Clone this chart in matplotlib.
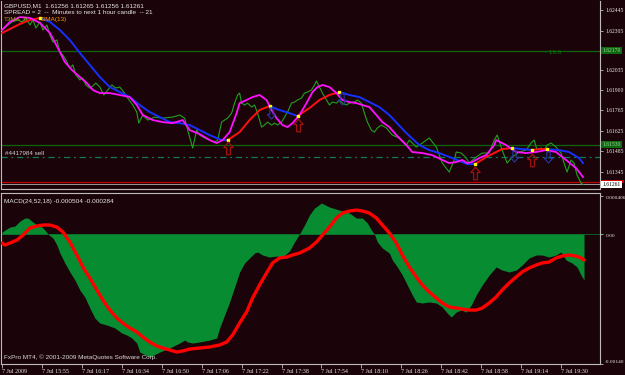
import matplotlib

matplotlib.use("Agg")
import matplotlib.pyplot as plt
import matplotlib.transforms as mtrans
import numpy as np
from matplotlib.patches import Rectangle
from matplotlib.path import Path

# ---- data (x = bar index, 1 bar ~ 2 px) ----
close_x = [0, 3, 5, 8, 10, 12, 14, 15.5, 17, 19, 20.5, 22.5, 24, 25.5, 27.5, 29, 30.5, 32, 34, 35.5,
           37, 39, 40.5, 42, 44, 45.5, 47, 49, 51, 53, 55, 57, 59, 61, 63, 65.5, 67.5, 68.5, 70.5, 73,
           76.5, 80.5, 85.5, 89, 91.5, 93, 95.5, 97.5, 99, 101.5, 104, 106.5, 108, 110, 111.5, 113,
           115, 116.5, 118, 119, 120, 121.5, 123, 125, 126.5, 128, 130, 131.5, 133, 135, 136.5, 138,
           140, 141.5, 143, 145, 146.5, 148, 150, 151.5, 153, 155, 156.5, 157.5, 159, 160.5, 162.5,
           164, 165.5, 167.5, 169, 170.5, 172.5, 174, 176.5, 178, 180, 181.5, 183, 185, 186.5, 188,
           190, 192.5, 195.5, 199, 202.5, 204, 207.5, 210.5, 214, 217.5, 220.5, 224, 226.5, 227.5,
           230, 232.5, 234, 237.5, 240.5, 244, 246.5, 248, 250.5, 253, 255.5, 259, 262.5, 265, 266.5,
           268, 270, 271.5, 273, 275, 277.5, 280, 281.5, 283, 285, 286.5, 288, 290, 291]
close_y = [1.62309, 1.62343, 1.62364, 1.62377, 1.62364, 1.62391, 1.62343, 1.62377, 1.62323, 1.62364,
           1.62309, 1.62343, 1.62275, 1.62228, 1.62241, 1.62160, 1.62139, 1.62106, 1.62051, 1.62072,
           1.62004, 1.61970, 1.61983, 1.61936, 1.61915, 1.61929, 1.61949, 1.61922, 1.61868, 1.61902,
           1.61936, 1.61915, 1.61922, 1.61888, 1.61847, 1.61800, 1.61752, 1.61677, 1.61732, 1.61698,
           1.61718, 1.61711, 1.61718, 1.61732, 1.61711, 1.61630, 1.61508, 1.61630, 1.61596, 1.61576,
           1.61562, 1.61549, 1.61562, 1.61684, 1.61698, 1.61711, 1.61745, 1.61813, 1.61868, 1.61881,
           1.61813, 1.61800, 1.61813, 1.61786, 1.61800, 1.61745, 1.61650, 1.61664, 1.61684, 1.61664,
           1.61677, 1.61664, 1.61684, 1.61718, 1.61752, 1.61813, 1.61820, 1.61834, 1.61847, 1.61881,
           1.61888, 1.61902, 1.61936, 1.61963, 1.61922, 1.61881, 1.61834, 1.61800, 1.61820, 1.61813,
           1.61834, 1.61813, 1.61800, 1.61813, 1.61820, 1.61834, 1.61813, 1.61745, 1.61684, 1.61630,
           1.61616, 1.61644, 1.61664, 1.61644, 1.61596, 1.61576, 1.61528, 1.61562, 1.61515, 1.61542,
           1.61576, 1.61515, 1.61406, 1.61345, 1.61427, 1.61481, 1.61474, 1.61440, 1.61406, 1.61447,
           1.61474, 1.61474, 1.61562, 1.61596, 1.61494, 1.61406, 1.61447, 1.61481, 1.61494, 1.61542,
           1.61562, 1.61494, 1.61508, 1.61494, 1.61528, 1.61542, 1.61515, 1.61474, 1.61406, 1.61345,
           1.61427, 1.61406, 1.61325, 1.61270, 1.61261]

fast_x = [0, 4, 9, 14, 19, 24, 28, 31.5, 35, 39, 42.5, 45.5, 49, 54, 59, 64, 67.5, 70.5, 75.5, 80.5,
          85.5, 90.5, 94, 99, 104, 107.5, 110.5, 114, 117.5, 119, 122.5, 125.5, 129, 132.5, 135,
          137.5, 140.5, 143, 145.5, 149, 152.5, 155.5, 158, 160.5, 164, 167.5, 170.5, 174, 177.5,
          180.5, 184, 187.5, 190.5, 194, 197.5, 202.5, 205.5, 210.5, 215.5, 220.5, 224, 227.5, 230.5,
          233, 235.5, 239, 242.5, 246.5, 247.5, 252.5, 257.5, 262.5, 267.5, 272.5, 277.5, 282.5,
          287.5, 291]
fast_y = [1.62309, 1.62364, 1.62397, 1.62391, 1.62357, 1.62289, 1.62187, 1.62092, 1.62038, 1.61990,
          1.61949, 1.61902, 1.61881, 1.61881, 1.61868, 1.61854, 1.61800, 1.61732, 1.61698, 1.61684,
          1.61677, 1.61698, 1.61630, 1.61603, 1.61562, 1.61542, 1.61562, 1.61616, 1.61745, 1.61813,
          1.61834, 1.61854, 1.61868, 1.61834, 1.61766, 1.61711, 1.61664, 1.61650, 1.61677, 1.61732,
          1.61813, 1.61888, 1.61922, 1.61936, 1.61922, 1.61881, 1.61834, 1.61820, 1.61813, 1.61800,
          1.61786, 1.61732, 1.61684, 1.61650, 1.61596, 1.61528, 1.61481, 1.61474, 1.61460, 1.61427,
          1.61406, 1.61413, 1.61427, 1.61406, 1.61413, 1.61440, 1.61460, 1.61528, 1.61562, 1.61528,
          1.61481, 1.61474, 1.61481, 1.61494, 1.61481, 1.61427, 1.61372, 1.61311]

slow_x = [0, 4, 9, 14, 19, 24, 29, 34, 39, 44, 49, 54, 59, 64, 69, 74, 79, 84, 89, 94, 99, 104, 110,
          113, 119, 124, 129, 134, 139, 144, 148, 154, 159, 164, 169, 174, 179, 184, 189, 194, 202.5,
          209, 214, 219, 225.5, 233, 237, 242.5, 247.5, 250.5, 255.5, 260.5, 265.5, 269, 273, 279,
          284, 289, 291]
slow_y = [1.62289, 1.62316, 1.62350, 1.62377, 1.62391, 1.62364, 1.62309, 1.62241, 1.62153, 1.62072,
          1.61990, 1.61922, 1.61888, 1.61854, 1.61800, 1.61752, 1.61718, 1.61684, 1.61677, 1.61664,
          1.61630, 1.61596, 1.61562, 1.61562, 1.61616, 1.61698, 1.61766, 1.61793, 1.61766, 1.61745,
          1.61725, 1.61779, 1.61834, 1.61868, 1.61888, 1.61868, 1.61854, 1.61820, 1.61786, 1.61732,
          1.61610, 1.61528, 1.61494, 1.61474, 1.61440, 1.61399, 1.61399, 1.61447, 1.61481, 1.61501,
          1.61508, 1.61501, 1.61494, 1.61501, 1.61501, 1.61494, 1.61481, 1.61440, 1.61406]
# trend colouring of the slow average: segment boundaries and direction
trend_breaks = [0, 19, 113, 134, 148, 169, 237, 255.5, 265.5, 273, 291]
trend_up = [True, False, True, False, True, False, True, False, True, False]

buy_x = [113, 148, 237, 265.5]
buy_y = [1.61508, 1.61664, 1.61338, 1.61427]
sell_x = [134.75, 170.25, 256.5, 273.5]
sell_y = [1.61749, 1.61841, 1.61454, 1.61447]

level_green = [1.62170, 1.61530]
level_order = 1.61447
level_red = 1.61277
bid = 1.61261

price_ticks = [1.62445, 1.62305, 1.62035, 1.61900, 1.61765, 1.61625, 1.61485, 1.61345]

hist_x = [0, 1.5, 4, 6.5, 9, 11.5, 13, 15.5, 17.5, 20, 21.5, 23, 25.5, 27.5, 29, 31.5, 34, 36.5, 39,
          41.5, 44, 46.5, 49, 52.5, 56.5, 60, 62.5, 65, 67.5, 69, 74, 79, 84, 89, 91.5, 93, 95.5, 99,
          104, 107.5, 109, 111.5, 114, 116.5, 119, 121.5, 124, 126.5, 128, 130.5, 134, 137.5, 140.5,
          144, 146.5, 149, 151.5, 154, 156.5, 160, 164, 169, 174, 177.5, 180.5, 183, 185, 186.5, 188,
          190.5, 194, 195.5, 198, 200.5, 203, 205.5, 207.5, 210.5, 214, 217.5, 220.5, 223, 225, 227.5,
          230, 232.5, 235, 237.5, 240.5, 244, 247.5, 250.5, 254, 257.5, 260.5, 264, 267.5, 270.5, 274,
          277.5, 280, 282.5, 285.5, 288, 290, 291.5]
hist_y = [0.00002, 0.000043, 0.000075, 0.000086, 0.00014, 0.000172, 0.000172, 0.000129, 0.000097,
          0.000075, 0.000043, 0.0, -0.000043, -0.000118, -0.000205, -0.000312, -0.000409, -0.000495,
          -0.000603, -0.000679, -0.000797, -0.000905, -0.000959, -0.00098, -0.001012, -0.001066,
          -0.001088, -0.00112, -0.001174, -0.001271, -0.001325, -0.001271, -0.001228, -0.001174,
          -0.001142, -0.001163, -0.001174, -0.001163, -0.001142, -0.00112, -0.001012, -0.000872,
          -0.000732, -0.000571, -0.000409, -0.000312, -0.000258, -0.000205, -0.000194, -0.000226,
          -0.000248, -0.000237, -0.000248, -0.000183, -0.000086, 0.0, 0.000097, 0.000205, 0.00028,
          0.000334, 0.000291, 0.000258, 0.000226, 0.000172, 0.000172, 0.000118, 0.000043, 0.0,
          -0.000086, -0.000151, -0.000205, -0.00028, -0.000355, -0.000442, -0.000549, -0.000657,
          -0.000732, -0.000743, -0.000732, -0.000743, -0.000786, -0.000851, -0.000894, -0.00084,
          -0.000819, -0.00084, -0.000765, -0.000657, -0.000549, -0.000442, -0.000355, -0.000388,
          -0.000409, -0.000388, -0.000334, -0.000258, -0.000226, -0.000226, -0.000248, -0.000226,
          -0.000194, -0.00028, -0.000312, -0.000355, -0.000442, -0.000495]

signal_x = [0, 1.5, 4, 7.5, 10.5, 14, 17.5, 20.5, 24, 27.5, 30.5, 34, 37.5, 40.5, 44, 47.5, 50.5, 54,
            57.5, 60.5, 64, 67.5, 70.5, 74, 77.5, 80.5, 84, 87.5, 90.5, 94, 99, 104, 109, 112.5, 115.5,
            119, 122.5, 125.5, 129, 132.5, 135.5, 139, 142.5, 145.5, 149, 154, 157.5, 160.5, 164,
            167.5, 170.5, 174, 177.5, 180.5, 184, 187.5, 190.5, 194, 197.5, 200.5, 204, 207.5, 210.5,
            214, 217.5, 220.5, 224, 227.5, 230.5, 234, 237.5, 240.5, 244, 247.5, 250.5, 254, 257.5,
            260.5, 264, 267.5, 270.5, 274, 277.5, 280.5, 284, 287.5, 290, 291.5]
signal_y = [-0.000097, -0.000118, -0.000097, -0.000065, -0.000011, 0.000065, 0.000086, 0.000097,
            0.000097, 0.000075, 0.000022, -0.000086, -0.000226, -0.000355, -0.000474, -0.000603,
            -0.000711, -0.000819, -0.000905, -0.000959, -0.001012, -0.001055, -0.001109, -0.001163,
            -0.001206, -0.001228, -0.001249, -0.001271, -0.00126, -0.001239, -0.001228, -0.001217,
            -0.001195, -0.001163, -0.001088, -0.000959, -0.00084, -0.000689, -0.000549, -0.00042,
            -0.000312, -0.000258, -0.000248, -0.000226, -0.000205, -0.000151, -0.000086, -0.000011,
            0.000075, 0.000172, 0.000226, 0.000248, 0.000258, 0.000248, 0.000226, 0.000172, 0.000097,
            0.000011, -0.000097, -0.000226, -0.000355, -0.000463, -0.000549, -0.000625, -0.000689,
            -0.000743, -0.000786, -0.000797, -0.000808, -0.000819, -0.000819, -0.000797, -0.000743,
            -0.000678, -0.000603, -0.000528, -0.000463, -0.000409, -0.000366, -0.000334, -0.000312,
            -0.000302, -0.000258, -0.000237, -0.000226, -0.000237, -0.000258, -0.00028]

time_ticks = ["7 Jul 2009", "7 Jul 15:55", "7 Jul 16:17", "7 Jul 16:34", "7 Jul 16:50",
              "7 Jul 17:06", "7 Jul 17:22", "7 Jul 17:38", "7 Jul 17:54", "7 Jul 18:10",
              "7 Jul 18:26", "7 Jul 18:42", "7 Jul 18:58", "7 Jul 19:14", "7 Jul 19:30"]

# ---- style ----
BG = "#1b0409"
FRAME = "#bcbcbc"
TXT = "#e6e6e6"
SANS = ["Liberation Sans", "DejaVu Sans"]
SERIF = ["Liberation Serif", "DejaVu Serif"]
W, H = 625, 375

fig = plt.figure(figsize=(W / 100, H / 100), dpi=100, facecolor=BG)


def px_axes(left, top, right, bottom):
    return fig.add_axes([left / W, 1 - bottom / H, (right - left) / W, (bottom - top) / H])


ax1 = px_axes(1, 1, 600, 189)
ax2 = px_axes(1, 193, 600, 364)
for ax in (ax1, ax2):
    ax.set_facecolor(BG)
    ax.set_xlim(-0.5, 299.5)
    for sp in ax.spines.values():
        sp.set_color(FRAME)
        sp.set_linewidth(0.8)
    ax.yaxis.tick_right()
    ax.tick_params(axis="y", direction="out", length=2.5, width=0.6, color=FRAME,
                   labelcolor=TXT, labelsize=4.1, pad=1.3)
ax1.spines["top"].set_visible(False)
ax1.set_ylim(1.61230, 1.62506)
ax2.set_ylim(-0.0014, 0.000442)

# price panel
for lv in level_green:
    ax1.axhline(lv, color="#0c640c", lw=0.9, zorder=1)
ax1.axhline(level_order, color="#0f7a5c", lw=0.9, ls=(0, (5, 3, 1.5, 3)), zorder=1)
ax1.axhline(level_red, color="#c00000", lw=0.9, zorder=1)
ax1.axhline(bid, color="#9a9a9a", lw=0.7, zorder=1)

ax1.plot(close_x, close_y, color="#1fa01f", lw=0.8, zorder=3)
sx = np.array(slow_x)
sy = np.array(slow_y)
for a, b, up in zip(trend_breaks[:-1], trend_breaks[1:], trend_up):
    m = (sx >= a) & (sx <= b)
    ax1.plot(sx[m], sy[m], color="#ff1010" if up else "#1530ff", lw=1.4, zorder=4)
ax1.plot(fast_x, fast_y, color="#ff10ff", lw=1.3, zorder=5)
brk = trend_breaks[1:-1]
ax1.plot(brk, np.interp(brk, sx, sy), ls="none", marker="s", ms=1.6, color="#ffff00", zorder=6)

arrow = Path([(0, 1), (0.75, 0.15), (0.3, 0.15), (0.3, -1), (-0.3, -1), (-0.3, 0.15),
              (-0.75, 0.15), (0, 1)], closed=True)
arrow_dn = Path(arrow.vertices * [1, -1], arrow.codes)
ax1.plot(buy_x, buy_y, ls="none", marker=arrow, ms=9, mfc="none", mec="#a01010", mew=0.9, zorder=6)
ax1.plot(sell_x, sell_y, ls="none", marker=arrow_dn, ms=8, mfc="none", mec="#2438a8", mew=0.8,
         zorder=6)

ax1.set_xticks([])
ax1.set_yticks(price_ticks)
ax1.set_yticklabels([f"{p:.5f}" for p in price_ticks])
for lbl in ax1.get_yticklabels():
    lbl.set_fontfamily(SERIF)

tr1 = mtrans.blended_transform_factory(ax1.transAxes, ax1.transData)
box_kw = dict(transform=tr1, ha="left", va="center", fontsize=4.1, family=SERIF, clip_on=False)
for lv in level_green:
    ax1.text(1.004, lv, f"{lv:.5f}", color="#9fd09f",
             bbox=dict(boxstyle="square,pad=0.2", fc="#0f6a0f", ec="none"), **box_kw)
# ask-line price box, mostly hidden behind the bid box
ax1.add_patch(Rectangle((1.002, level_red - 0.00004), 0.038, 0.00016, transform=tr1,
                        fc="#d00000", ec="none", clip_on=False, zorder=5))
ax1.text(1.004, bid, f"{bid:.5f}", color="#000000", zorder=6,
         bbox=dict(boxstyle="square,pad=0.2", fc="#ffffff", ec="none"), **box_kw)

ax1.text(0.908, level_green[0] - 0.00012, "- 13.6", transform=tr1, color="#0c7a0c",
         fontsize=4.5, family=SANS, va="center")
ax1.text(0.007, 1.61474, "#4417984 sell", transform=tr1, color="#d0d0d0", fontsize=4.5,
         family=SANS, va="center")

# MACD panel
ax2.axhline(0, color="#0a6a2a", lw=0.6, zorder=1)
ax2.fill_between(hist_x, 0, hist_y, color="#078c32", lw=0, zorder=2)
ax2.plot(signal_x, signal_y, color="#ff0000", lw=2.4, zorder=3, solid_capstyle="round")
ax2.set_yticks([0.000406, 0.0, -0.0014])
ax2.set_yticklabels(["0.000406", "0.00", "-0.00140"])
for lbl, va in zip(ax2.get_yticklabels(), ["top", "top", "bottom"]):
    lbl.set_va(va)
    lbl.set_fontfamily(SERIF)
    lbl.set_fontsize(3.9)
ax2.set_xticks(np.arange(0, 20 * len(time_ticks), 20))
ax2.set_xticklabels(time_ticks)
ax2.tick_params(axis="x", direction="out", length=3, width=0.6, color=FRAME,
                labelcolor=TXT, labelsize=4.3, pad=0.5)
for lbl in ax2.get_xticklabels():
    lbl.set_ha("left")
    lbl.set_fontfamily(SERIF)


# header texts
def ftext(x, y, s, color=TXT, size=4.6):
    fig.text(x / W, 1 - y / H, s, color=color, fontsize=size, family=SANS, va="center", ha="left")


ftext(4, 6, "GBPUSD,M1  1.61256 1.61265 1.61256 1.61261")
ftext(4, 12.5, "SPREAD = 2  --  Minutes to next 1 hour candle  -- 21")
ftext(4, 19, "T3MA_9", color="#a0a020")
ftext(40, 19, "I3MA(13)", color="#ff9a00")
ftext(4, 201, "MACD(24,52,18) -0.000504 -0.000284")
ftext(4, 357, "FxPro MT4, \u00a9 2001-2009 MetaQuotes Software Corp.", color="#d8d8d8")

fig.savefig("out.png", dpi=100, facecolor=BG)
